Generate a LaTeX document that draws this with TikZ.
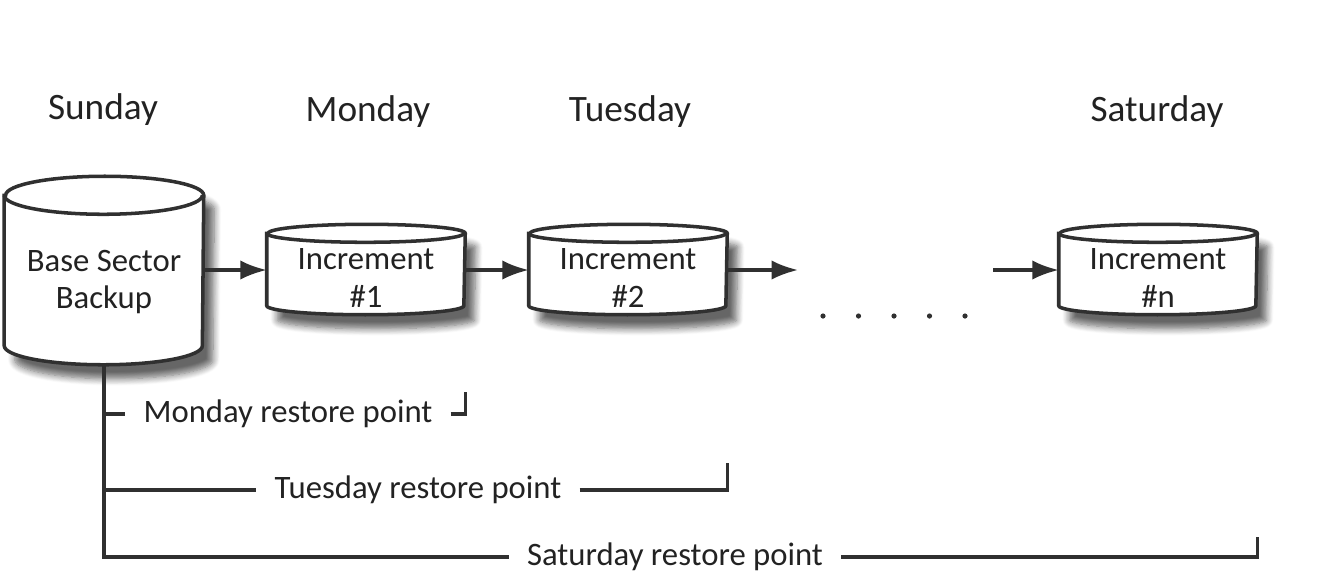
\documentclass[tikz,border=0pt]{standalone}
\usepackage{fontspec}
\setmainfont{Carlito}
\usetikzlibrary{positioning,arrows,arrows.meta,shadows.blur}
\tikzset{>={Latex[length=7.5pt,width=5.5pt]}}
\definecolor{inktext}{HTML}{222222}
\definecolor{inkline}{HTML}{303030}

% cylinder round a named box: #1 node, #2 x radius, #3 y radius
\newcommand{\diskdraw}[3]{%
    \draw[diskline] (#1.north west) -- (#1.south west)
        arc[start angle=180, end angle=360, x radius=#2, y radius=#3]
        -- (#1.north east)
        arc[start angle=0, end angle=180, x radius=#2, y radius=#3] -- cycle;
    \draw[draw=inkline, line width=1pt] (#1.north west)
        arc[start angle=180, end angle=360, x radius=#2, y radius=#3];
}

\begin{document}
\begin{tikzpicture}[x=0.01cm,y=-0.01cm,
    every node/.style={text=inktext},
    diskline/.style={draw=inkline, line width=1pt, fill=white,
        blur shadow={shadow xshift=3pt, shadow yshift=-4pt, shadow blur steps=8, shadow opacity=60}},
    bigdisk/.style={inner sep=0pt, minimum width=1.98cm, minimum height=1.49cm},
    incdisk/.style={inner sep=0pt, minimum width=1.97cm, minimum height=0.71cm},
    disktext/.style={align=center, inner sep=0pt, font=\fontsize{9.3}{10.6}\selectfont},
    day/.style={font=\fontsize{10.6}{12}\selectfont},
    restore/.style={font=\fontsize{9.3}{11}\selectfont, inner sep=5pt},
    link/.style={->, line width=0.9pt, draw=inkline},
    bracket/.style={line width=0.95pt, draw=inkline}]

    \useasboundingbox (0,0) rectangle (1342,584);

    % days
    \node[day] (sun) at (103,110) {Sunday};
    \node[day] (mon) at (368,112) {Monday};
    \node[day] (tue) at (630,112) {Tuesday};
    \node[day] (sat) at (1157,112) {Saturday};

    % backups
    \node[bigdisk] (base) at (104,270.5) {};
    \node[incdisk] (inc1) at (366,269.5) {};
    \node[incdisk] (inc2) at (628,269.5) {};
    \node[incdisk] (incn) at (1158,269.5) {};

    \diskdraw{base}{0.99cm}{0.19cm}
    \foreach \d in {inc1,inc2,incn}
    {
        \diskdraw{\d}{0.985cm}{0.09cm}
    }

    \node[disktext] (basetxt) at (104,282) {Base Sector\\Backup};
    \node[disktext] (inc1txt) at (366,278) {Increment\\\#1};
    \node[disktext] (inc2txt) at (628,278) {Increment\\\#2};
    \node[disktext] (incntxt) at (1158,278) {Increment\\\#n};

    \coordinate (gapin) at (798,270);
    \coordinate (gapout) at (993,270);

    \draw[link] (base.east |- gapin) -- (inc1.west |- gapin);
    \draw[link] (inc1.east |- gapin) -- (inc2.west |- gapin);
    \draw[link] (inc2.east |- gapin) -- (gapin);
    \draw[link] (gapout) -- (incn.west |- gapout);

    \foreach \i in {0,...,4}
        \fill[inkline] (823+35.5*\i,316) circle (2.6);

    % restore points
    \node[restore] (monrp) at (288,414) {Monday restore point};
    \node[restore] (tuerp) at (418,490) {Tuesday restore point};
    \node[restore] (satrp) at (675,557) {Saturday restore point};

    \draw[bracket] ([yshift=-0.19cm]base.south) |- (satrp.west);
    \draw[bracket] (base.south |- monrp) -- (monrp.west);
    \draw[bracket] (base.south |- tuerp) -- (tuerp.west);

    \draw[bracket] (monrp.east) -- (inc1.east |- monrp) -- ++(0,-22);
    \draw[bracket] (tuerp.east) -- (inc2.east |- tuerp) -- ++(0,-27);
    \draw[bracket] (satrp.east) -- (incn.east |- satrp) -- ++(0,-20);
\end{tikzpicture}
\end{document}
